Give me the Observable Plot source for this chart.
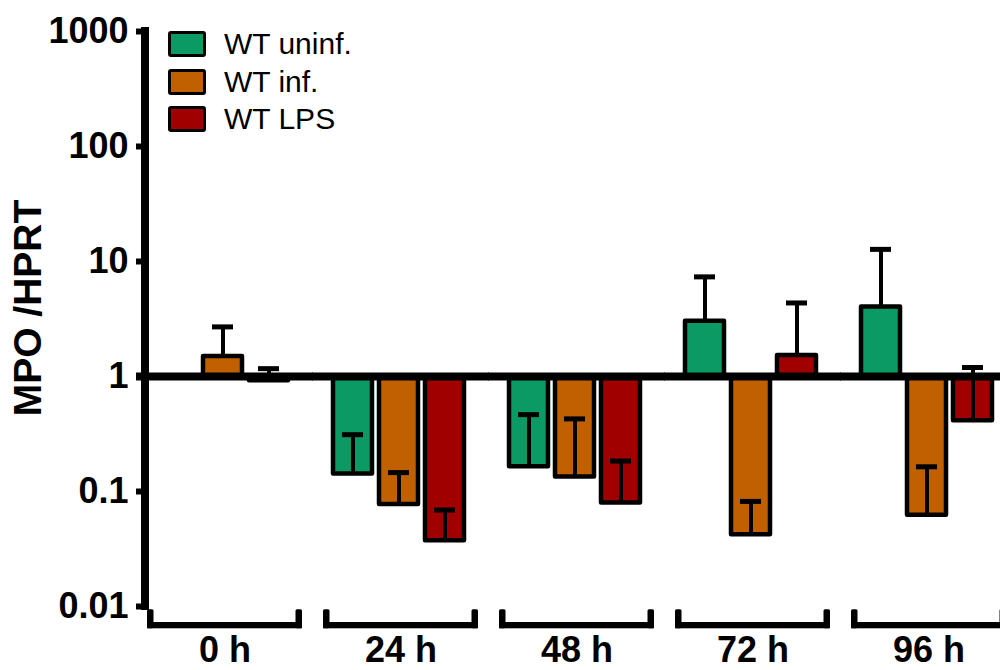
<!DOCTYPE html>
<html><head><meta charset="utf-8">
<script src="https://cdn.jsdelivr.net/npm/d3@7"></script>
<script src="https://cdn.jsdelivr.net/npm/@observablehq/plot@0.6"></script>
<style>
html,body{margin:0;padding:0;overflow:hidden;background:#fff;}
#wrap{position:relative;width:1000px;height:670px;overflow:hidden;font-family:"Liberation Sans",Arial,sans-serif;}
#wrap svg{display:block;max-width:none !important;width:1010px !important;height:670px !important;}
.leg{position:absolute;left:168px;display:flex;align-items:center;height:26px;font-size:30px;color:#000;white-space:nowrap;}
.sw{width:32px;height:20px;border:3px solid #000;border-radius:3px;margin-right:18px;}
#ytitle{position:absolute;left:28px;top:308px;transform:translate(-50%,-50%) rotate(-90deg);font-size:39px;font-weight:bold;white-space:nowrap;color:#000;}
</style></head><body><div id="wrap"></div>
<script>
const times = ["0 h", "24 h", "48 h", "72 h", "96 h"];
const series = ["WT uninf.", "WT inf.", "WT LPS"];
const colors = ["#0c9a64", "#c06000", "#a00000"];
const uninfMean  = [1,    0.142,  0.164,  3.02,  4.03];
const uninfUpper = [null, 0.312,  0.466,  7.35,  12.75];
const infMean    = [1.49, 0.0769, 0.134,  0.042, 0.0621];
const infUpper   = [2.7,  0.146,  0.428,  0.082, 0.164];
const lpsMean    = [0.92, 0.0373, 0.0795, 1.52,  0.413];
const lpsUpper   = [1.17, 0.069,  0.184,  4.36,  1.198];
const yTicks = [0.01, 0.1, 1, 10, 100, 1000];
const yTickLabels = ["0.01", "0.1", "1", "10", "100", "1000"];

const means = [uninfMean, infMean, lpsMean];
const uppers = [uninfUpper, infUpper, lpsUpper];
const rows = [];
series.forEach((s, i) => times.forEach((t, j) => {
  rows.push({time: t, series: s, mean: means[i][j], upper: uppers[i][j]});
}));
const errRows = rows.filter(d => d.upper != null);

const chart = Plot.plot({
  width: 1010, height: 670,
  marginLeft: 146, marginRight: 3, marginTop: 31, marginBottom: 64,
  style: {fontFamily: "Liberation Sans, Arial, sans-serif", background: "white", color: "black", overflow: "visible"},
  fx: {domain: times, paddingInner: 0.122, paddingOuter: 0, label: null},
  x: {domain: series, paddingInner: 0.147, paddingOuter: 0.2475, align: 0.43, axis: null},
  y: {type: "log", domain: [0.01, 1000], axis: null},
  color: {domain: series, range: colors},
  marks: [
    // vertical axis line (first facet only)
    Plot.rect([times[0]], {fx: d => d, y1: yTicks[0], y2: yTicks[yTicks.length - 1], fill: "black",
      insetLeft: -6, insetRight: 153, insetTop: -4, insetBottom: -4}),
    // group brackets below the axis
    Plot.rect([yTicks[0]], {y1: d => d, y2: d => d, fill: "black", insetTop: 16, insetBottom: -22.3}),
    Plot.rect([yTicks[0]], {y1: d => d, y2: d => d, fill: "black", insetTop: 3.3, insetBottom: -22.3, insetRight: 148.5, rx: 1.5}),
    Plot.rect([yTicks[0]], {y1: d => d, y2: d => d, fill: "black", insetTop: 3.3, insetBottom: -22.3, insetLeft: 148.5, rx: 1.5}),
    // bars
    Plot.barY(rows, {fx: "time", x: "series", y1: 1, y2: "mean", fill: "series",
      stroke: "black", strokeWidth: 4.5, strokeLinejoin: "round"}),
    // baseline at 1
    Plot.ruleY([1], {stroke: "black", strokeWidth: 8, insetLeft: -11, insetRight: -11}),
    // error bars
    Plot.ruleX(errRows, {fx: "time", x: "series", y1: "mean", y2: "upper", stroke: "black", strokeWidth: 4}),
    Plot.tickY(errRows, {fx: "time", x: "series", y: "upper", stroke: "black", strokeWidth: 5, insetLeft: 9, insetRight: 9}),
    // axes
    Plot.axisY({ticks: yTicks, tickFormat: d => yTickLabels[yTicks.indexOf(d)], tickSize: 11, tickPadding: 8,
      strokeWidth: 6, fontSize: 36, fontWeight: "bold", label: null}),
    Plot.axisFx({anchor: "bottom", tickSize: 0, tickPadding: 30, fontSize: 36, fontWeight: "bold", label: null})
  ]
});

const wrap = document.getElementById("wrap");
wrap.appendChild(chart);

// legend
series.forEach((s, i) => {
  const item = document.createElement("div");
  item.className = "leg";
  item.style.top = (31 + 37.6 * i) + "px";
  const sw = document.createElement("div");
  sw.className = "sw";
  sw.style.background = colors[i];
  const lab = document.createElement("span");
  lab.textContent = s;
  item.appendChild(sw);
  item.appendChild(lab);
  wrap.appendChild(item);
});

// y-axis title
const yt = document.createElement("div");
yt.id = "ytitle";
yt.textContent = "MPO /HPRT";
wrap.appendChild(yt);
</script>
</body></html>
